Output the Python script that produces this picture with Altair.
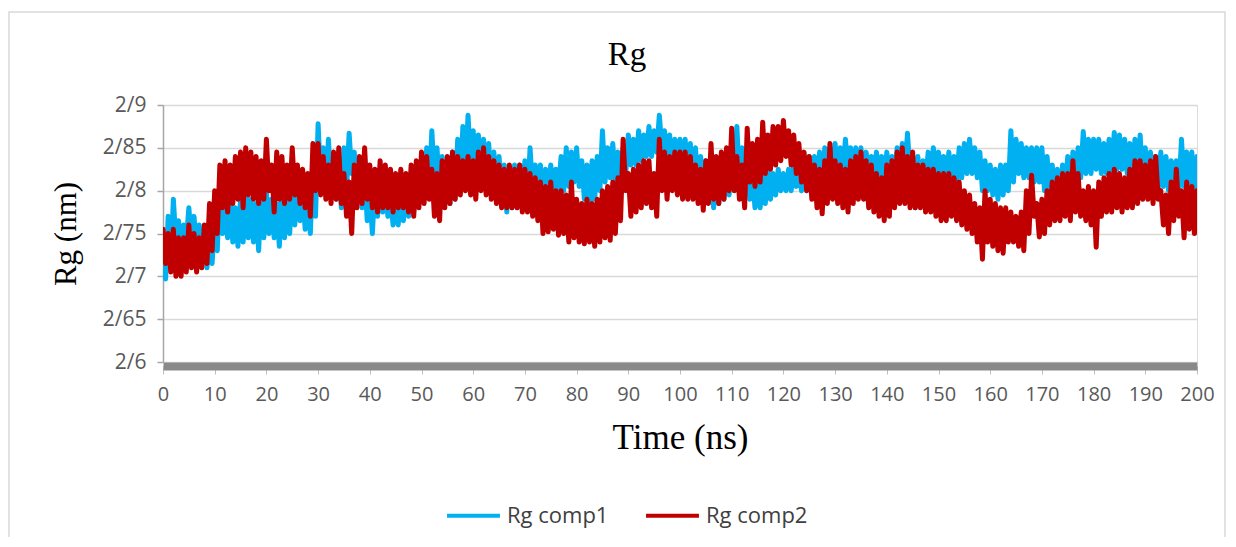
import altair as alt
import pandas as pd

# ---------------- data ----------------
# For every ns the dense trace sweeps between a high and a low value.
time_ns = list(range(0, 201))

comp1_high = [
    2.720, 2.770, 2.790, 2.765, 2.760, 2.780, 2.770, 2.760, 2.745, 2.750,
    2.770, 2.810, 2.785, 2.790, 2.780, 2.790, 2.800, 2.790, 2.785, 2.795,
    2.800, 2.790, 2.785, 2.800, 2.795, 2.800, 2.805, 2.800, 2.790, 2.830,
    2.878, 2.850, 2.860, 2.840, 2.830, 2.850, 2.867, 2.845, 2.830, 2.820,
    2.800, 2.810, 2.810, 2.800, 2.795, 2.800, 2.800, 2.810, 2.815, 2.825,
    2.835, 2.850, 2.870, 2.850, 2.840, 2.835, 2.845, 2.860, 2.875, 2.888,
    2.870, 2.865, 2.860, 2.855, 2.845, 2.840, 2.830, 2.825, 2.830, 2.830,
    2.835, 2.850, 2.830, 2.830, 2.825, 2.830, 2.825, 2.840, 2.850, 2.845,
    2.850, 2.835, 2.830, 2.835, 2.840, 2.870, 2.850, 2.855, 2.845, 2.850,
    2.865, 2.860, 2.870, 2.865, 2.875, 2.870, 2.888, 2.870, 2.865, 2.860,
    2.860, 2.860, 2.855, 2.850, 2.840, 2.835, 2.830, 2.830, 2.835, 2.840,
    2.850, 2.875, 2.850, 2.830, 2.820, 2.815, 2.820, 2.825, 2.820, 2.825,
    2.820, 2.825, 2.830, 2.835, 2.830, 2.840, 2.840, 2.845, 2.850, 2.850,
    2.855, 2.850, 2.860, 2.850, 2.850, 2.850, 2.845, 2.840, 2.845, 2.840,
    2.845, 2.840, 2.850, 2.855, 2.867, 2.840, 2.840, 2.835, 2.845, 2.850,
    2.845, 2.840, 2.845, 2.840, 2.850, 2.855, 2.860, 2.850, 2.845, 2.835,
    2.830, 2.825, 2.830, 2.830, 2.870, 2.860, 2.855, 2.850, 2.850, 2.850,
    2.850, 2.840, 2.830, 2.825, 2.830, 2.840, 2.845, 2.850, 2.869, 2.860,
    2.860, 2.860, 2.855, 2.860, 2.868, 2.865, 2.860, 2.855, 2.860, 2.865,
    2.850, 2.845, 2.840, 2.845, 2.840, 2.835, 2.835, 2.860, 2.845, 2.845,
    2.840,
]
comp1_low = [
    2.697, 2.710, 2.740, 2.735, 2.740, 2.740, 2.730, 2.725, 2.710, 2.715,
    2.730, 2.750, 2.745, 2.740, 2.735, 2.740, 2.745, 2.740, 2.730, 2.745,
    2.750, 2.745, 2.735, 2.745, 2.750, 2.760, 2.765, 2.755, 2.750, 2.770,
    2.810, 2.800, 2.800, 2.790, 2.780, 2.800, 2.820, 2.790, 2.780, 2.765,
    2.750, 2.770, 2.775, 2.770, 2.760, 2.760, 2.765, 2.770, 2.775, 2.785,
    2.790, 2.800, 2.810, 2.800, 2.790, 2.785, 2.790, 2.800, 2.820, 2.830,
    2.820, 2.815, 2.810, 2.800, 2.795, 2.790, 2.775, 2.780, 2.780, 2.785,
    2.790, 2.800, 2.790, 2.785, 2.790, 2.795, 2.800, 2.800, 2.805, 2.810,
    2.805, 2.790, 2.780, 2.790, 2.800, 2.810, 2.815, 2.810, 2.815, 2.820,
    2.830, 2.830, 2.835, 2.840, 2.840, 2.845, 2.850, 2.830, 2.820, 2.810,
    2.800, 2.810, 2.810, 2.800, 2.790, 2.790, 2.780, 2.785, 2.790, 2.795,
    2.800, 2.810, 2.800, 2.790, 2.780, 2.780, 2.785, 2.790, 2.795, 2.800,
    2.800, 2.800, 2.805, 2.800, 2.800, 2.805, 2.800, 2.805, 2.810, 2.815,
    2.815, 2.820, 2.820, 2.815, 2.810, 2.810, 2.820, 2.815, 2.815, 2.810,
    2.815, 2.815, 2.820, 2.820, 2.820, 2.780, 2.810, 2.810, 2.815, 2.815,
    2.815, 2.810, 2.810, 2.810, 2.815, 2.820, 2.820, 2.815, 2.800, 2.800,
    2.795, 2.790, 2.795, 2.800, 2.810, 2.820, 2.815, 2.815, 2.810, 2.810,
    2.800, 2.800, 2.795, 2.795, 2.800, 2.805, 2.810, 2.815, 2.820, 2.820,
    2.825, 2.820, 2.820, 2.820, 2.825, 2.825, 2.820, 2.815, 2.815, 2.810,
    2.800, 2.800, 2.800, 2.805, 2.800, 2.800, 2.800, 2.805, 2.800, 2.795,
    2.800,
]
comp2_high = [
    2.755, 2.750, 2.755, 2.745, 2.745, 2.760, 2.750, 2.745, 2.760, 2.785,
    2.800, 2.830, 2.835, 2.830, 2.840, 2.845, 2.850, 2.845, 2.840, 2.835,
    2.860, 2.830, 2.845, 2.840, 2.830, 2.850, 2.830, 2.825, 2.820, 2.855,
    2.855, 2.840, 2.830, 2.845, 2.850, 2.820, 2.810, 2.830, 2.840, 2.850,
    2.830, 2.825, 2.835, 2.830, 2.825, 2.820, 2.825, 2.820, 2.830, 2.835,
    2.845, 2.840, 2.825, 2.820, 2.835, 2.840, 2.845, 2.840, 2.835, 2.840,
    2.835, 2.845, 2.850, 2.840, 2.835, 2.830, 2.825, 2.830, 2.825, 2.830,
    2.825, 2.820, 2.815, 2.810, 2.805, 2.810, 2.800, 2.800, 2.795, 2.810,
    2.790, 2.785, 2.790, 2.785, 2.790, 2.800, 2.805, 2.810, 2.815, 2.860,
    2.820, 2.825, 2.830, 2.835, 2.835, 2.820, 2.860, 2.845, 2.840, 2.845,
    2.845, 2.845, 2.840, 2.830, 2.825, 2.835, 2.855, 2.840, 2.845, 2.850,
    2.873, 2.840, 2.830, 2.873, 2.855, 2.860, 2.880, 2.865, 2.875, 2.875,
    2.882, 2.870, 2.865, 2.855, 2.845, 2.840, 2.830, 2.825, 2.835, 2.855,
    2.835, 2.830, 2.825, 2.835, 2.840, 2.845, 2.835, 2.830, 2.820, 2.815,
    2.830, 2.835, 2.845, 2.850, 2.840, 2.845, 2.830, 2.830, 2.825, 2.825,
    2.820, 2.820, 2.820, 2.815, 2.810, 2.800, 2.795, 2.785, 2.780, 2.800,
    2.790, 2.785, 2.780, 2.780, 2.775, 2.770, 2.775, 2.800, 2.818, 2.785,
    2.790, 2.800, 2.810, 2.815, 2.820, 2.820, 2.835, 2.820, 2.800, 2.805,
    2.800, 2.810, 2.815, 2.820, 2.825, 2.820, 2.815, 2.825, 2.835, 2.835,
    2.830, 2.835, 2.840, 2.800, 2.795, 2.810, 2.825, 2.800, 2.810, 2.805,
    2.800,
]
comp2_low = [
    2.715, 2.705, 2.700, 2.700, 2.705, 2.710, 2.705, 2.710, 2.715, 2.730,
    2.750, 2.780, 2.775, 2.785, 2.790, 2.780, 2.795, 2.790, 2.785, 2.790,
    2.800, 2.775, 2.790, 2.785, 2.790, 2.795, 2.785, 2.780, 2.770, 2.800,
    2.795, 2.790, 2.785, 2.790, 2.785, 2.770, 2.750, 2.780, 2.785, 2.790,
    2.780, 2.775, 2.780, 2.780, 2.775, 2.780, 2.780, 2.775, 2.770, 2.780,
    2.785, 2.790, 2.770, 2.765, 2.780, 2.785, 2.790, 2.795, 2.800, 2.795,
    2.790, 2.800, 2.795, 2.790, 2.785, 2.780, 2.780, 2.780, 2.780, 2.775,
    2.775, 2.770, 2.765, 2.750, 2.752, 2.755, 2.748, 2.750, 2.740, 2.745,
    2.740, 2.738, 2.740, 2.735, 2.740, 2.745, 2.742, 2.750, 2.765, 2.800,
    2.770, 2.775, 2.780, 2.785, 2.780, 2.770, 2.800, 2.790, 2.800, 2.795,
    2.790, 2.790, 2.790, 2.785, 2.777, 2.785, 2.790, 2.785, 2.790, 2.800,
    2.800, 2.790, 2.780, 2.810, 2.805, 2.810, 2.820, 2.825, 2.830, 2.835,
    2.840, 2.830, 2.820, 2.810, 2.800, 2.790, 2.780, 2.773, 2.785, 2.790,
    2.785, 2.780, 2.775, 2.785, 2.790, 2.790, 2.780, 2.775, 2.770, 2.765,
    2.770, 2.780, 2.785, 2.785, 2.780, 2.780, 2.780, 2.775, 2.775, 2.770,
    2.765, 2.765, 2.770, 2.765, 2.760, 2.755, 2.750, 2.740, 2.720, 2.740,
    2.735, 2.730, 2.727, 2.740, 2.740, 2.735, 2.730, 2.750, 2.770, 2.746,
    2.750, 2.760, 2.765, 2.765, 2.770, 2.765, 2.775, 2.770, 2.765, 2.760,
    2.734, 2.770, 2.775, 2.775, 2.780, 2.775, 2.780, 2.780, 2.785, 2.790,
    2.790, 2.785, 2.790, 2.760, 2.750, 2.765, 2.770, 2.745, 2.755, 2.750,
    2.745,
]

series_names = ["Rg comp1", "Rg comp2"]
series_colors = ["#00B0F0", "#C00000"]
y_ticks = [2.6, 2.65, 2.7, 2.75, 2.8, 2.85, 2.9]
x_ticks = list(range(0, 201, 10))

rows = []
for name, highs, lows in [
    (series_names[0], comp1_high, comp1_low),
    (series_names[1], comp2_high, comp2_low),
]:
    for t, hi, lo in zip(time_ns, highs, lows):
        rows.append({"time": t, "rg": hi, "series": name})
        rows.append({"time": t + 0.5, "rg": lo, "series": name})
df = pd.DataFrame(rows)

SERIF = "Liberation Serif"
SANS = "Open Sans"

lines = alt.Chart(df).mark_line(
    strokeWidth=5, strokeJoin="round", strokeCap="round", clip=True
).encode(
    x=alt.X(
        "time:Q",
        scale=alt.Scale(domain=[0, 200], nice=False, zero=False),
        axis=alt.Axis(
            values=x_ticks, title="Time (ns)", grid=False,
            domainColor="#898989", domainWidth=8, offset=4,
            tickColor="#bfbfbf", tickSize=8, tickWidth=1,
            labelFont=SANS, labelFontSize=20, labelColor="#595959",
            labelPadding=10, labelOverlap=False, labelFlush=False,
            titleFont=SERIF, titleFontSize=35, titleFontWeight="normal",
            titleColor="#000000", titlePadding=16,
        ),
    ),
    y=alt.Y(
        "rg:Q",
        scale=alt.Scale(domain=[2.6, 2.9], nice=False, zero=False),
        axis=alt.Axis(
            values=y_ticks, title="Rg (nm)",
            labelExpr="replace(format(datum.value, '.2~f'), '.', '/')",
            grid=True, gridColor="#d9d9d9", gridWidth=1.5,
            domainColor="#a6a6a6", domainWidth=1.5,
            tickColor="#a6a6a6", tickSize=6, tickWidth=1.5,
            labelFont=SANS, labelFontSize=21, labelColor="#595959",
            labelPadding=11, labelFlush=False, labelOverlap=False,
            titleFont=SERIF, titleFontSize=31, titleFontWeight="normal",
            titleColor="#000000", titlePadding=20,
        ),
    ),
    color=alt.Color(
        "series:N",
        scale=alt.Scale(domain=series_names, range=series_colors),
        legend=alt.Legend(
            title=None, orient="none", legendX=282, legendY=382,
            direction="horizontal", symbolType="stroke",
            symbolStrokeWidth=4, symbolSize=2800,
            labelFont=SANS, labelFontSize=22, labelColor="#404040",
            labelOffset=5, columnPadding=29,
        ),
    ),
)

frame = alt.Chart(alt.Data(values=[{"k": 1}])).mark_rect(
    fillOpacity=0, stroke="#d9d9d9", strokeWidth=1.5, clip=False
).encode(
    x=alt.value(-154), x2=alt.value(1062),
    y=alt.value(-93), y2=alt.value(460),
)

chart = alt.layer(frame, lines).properties(
    width=1034,
    height=257,
    title=alt.TitleParams(
        "Rg", font=SERIF, fontSize=33, fontWeight="normal", color="#000000",
        anchor="middle", dx=-53, offset=-87, baseline="alphabetic",
    ),
    padding={"left": 155, "top": 97, "right": 29, "bottom": 175},
    autosize=alt.AutoSizeParams(type="none"),
).configure_view(stroke=None).configure(background="white")

chart.save("out.html", embed_options={"renderer": "svg", "actions": False})
